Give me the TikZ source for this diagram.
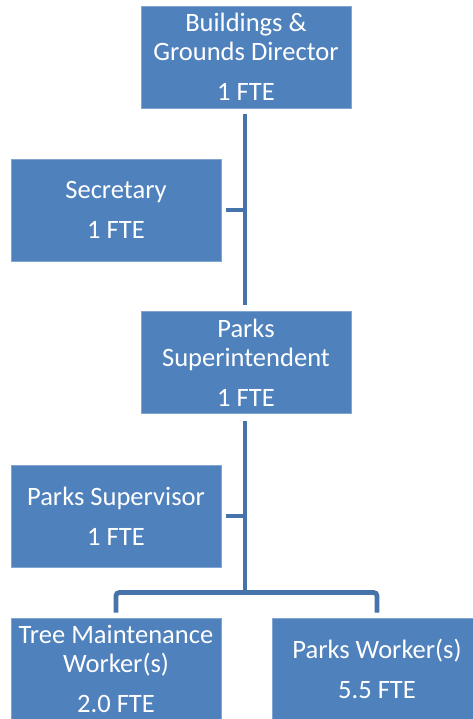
\documentclass[tikz,border=0pt]{standalone}
\usepackage{fontspec}
\setmainfont{Carlito}
\definecolor{boxblue}{RGB}{79,129,189}
\definecolor{boxedge}{RGB}{130,165,210}
\definecolor{lineblue}{RGB}{70,115,170}
\begin{document}
\begin{tikzpicture}[x=0.75pt,y=-0.75pt,
  orgbox/.style={rectangle, fill=boxblue, draw=boxedge, line width=0.5pt,
    minimum width=157.5pt, minimum height=76.5pt, inner sep=0pt,
    align=center, text=white, font=\fontsize{19.9}{21.75}\selectfont},
  conn/.style={draw=lineblue, line width=3.6pt},
  ]
\useasboundingbox (0,0) rectangle (473,719);
\begin{scope}
\clip (0,0) rectangle (473,719);
\node[orgbox] (dir) at (246,57) {Buildings \&\\Grounds Director\\[8.25pt]1 FTE};
\node[orgbox] (sec) at (116,210) {Secretary\\[8.25pt]1 FTE};
\node[orgbox] (sup) at (246,362.5) {Parks\\Superintendent\\[8.25pt]1 FTE};
\node[orgbox] (psup) at (116,516) {Parks Supervisor\\[8.25pt]1 FTE};
\node[orgbox] (tree) at (116,669) {Tree Maintenance\\Worker(s)\\[8.25pt]2.0 FTE};
\node[orgbox] (pw) at (377,669) {Parks Worker(s)\\[8.25pt]5.5 FTE};
\end{scope}
\coordinate (bar) at (245,592.5);
\coordinate (j1) at (245,210);
\coordinate (j2) at (245,516);
\draw[conn, shorten <=3.9pt, shorten >=4.5pt] (dir.south -| bar) -- (sup.north -| bar);
\draw[conn, shorten <=3.75pt] (sec.east) -- (j1);
\draw[conn, shorten <=5.2pt] (sup.south -| bar) -- (bar);
\draw[conn, shorten <=3.75pt] (psup.east) -- (j2);
\draw[conn, rounded corners=2.5pt, shorten <=3.75pt, shorten >=3.75pt] (tree.north) |- (bar) -| (pw.north);
\end{tikzpicture}
\end{document}
